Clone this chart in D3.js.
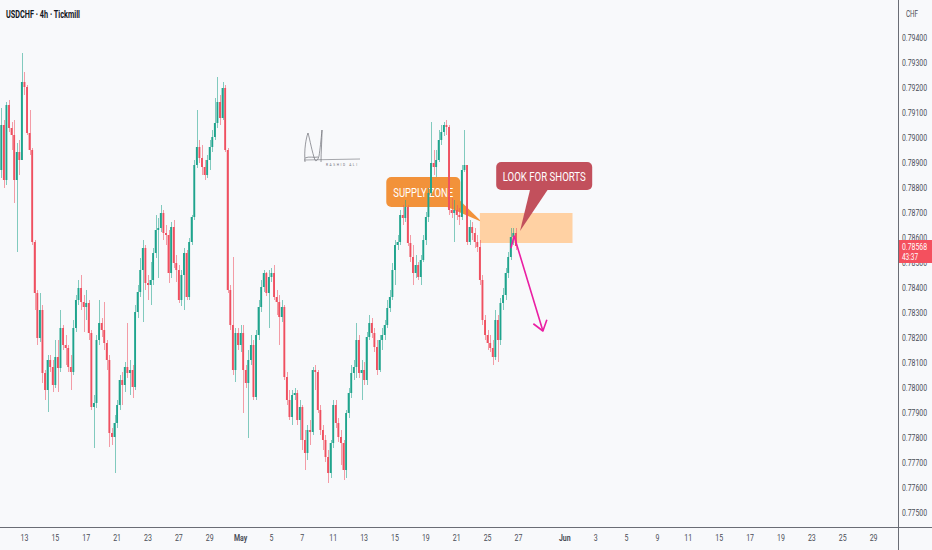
<!DOCTYPE html>
<html><head><meta charset="utf-8">
<script src="https://cdn.jsdelivr.net/npm/d3@7"></script>
<style>
html,body{margin:0;padding:0;background:#f8f9fb;}
svg{display:block;}
text{font-family:Roboto,'Noto Sans',sans-serif;}
</style></head><body>
<svg id="c" width="932" height="550"></svg>
<script>
// ---------- data ----------
const title = "USDCHF · 4h · Tickmill";
const currency = "CHF";
const firstOpen = 0.78872;
const closes = [0.79052,0.78832,0.79132,0.79040,0.79012,0.78832,0.78944,0.78912,0.79224,0.79204,
0.79020,0.78952,0.78584,0.78380,0.78200,0.78312,0.78060,0.77992,0.78112,0.78084,
0.78012,0.78124,0.78080,0.78240,0.78172,0.78160,0.78084,0.78064,0.78240,0.78352,
0.78400,0.78344,0.78324,0.78340,0.78220,0.77924,0.77940,0.78192,0.78260,0.78232,
0.78180,0.78112,0.77820,0.77804,0.77860,0.77932,0.78032,0.78012,0.78084,0.78060,
0.78072,0.78004,0.78304,0.78384,0.78472,0.78560,0.78420,0.78412,0.78432,0.78540,
0.78632,0.78640,0.78700,0.78620,0.78612,0.78460,0.78644,0.78500,0.78472,0.78352,
0.78452,0.78540,0.78364,0.78584,0.78684,0.78892,0.78964,0.78920,0.78884,0.78852,
0.78912,0.78964,0.79004,0.79060,0.79144,0.79080,0.79200,0.78952,0.78392,0.78252,
0.78072,0.78220,0.78172,0.78220,0.78072,0.78020,0.78112,0.78172,0.77964,0.78212,
0.78324,0.78404,0.78460,0.78380,0.78444,0.78460,0.78364,0.78344,0.78284,0.78324,
0.78044,0.77952,0.77884,0.77972,0.77980,0.77872,0.77924,0.77792,0.77740,0.77832,
0.77824,0.78072,0.78064,0.77912,0.77832,0.77792,0.77724,0.77660,0.77780,0.77932,
0.77860,0.77804,0.77780,0.77672,0.77900,0.77980,0.78060,0.78084,0.78192,0.78060,
0.78072,0.78032,0.78204,0.78260,0.78220,0.78164,0.78072,0.78192,0.78212,0.78252,
0.78320,0.78364,0.78472,0.78572,0.78584,0.78692,0.78680,0.78724,0.78580,0.78524,
0.78460,0.78492,0.78444,0.78512,0.78592,0.78684,0.78780,0.78900,0.78884,0.78912,
0.78992,0.79024,0.79052,0.79044,0.78712,0.78700,0.78712,0.78692,0.78684,0.78872,
0.78892,0.78584,0.78644,0.78620,0.78584,0.78564,0.78432,0.78272,0.78212,0.78180,
0.78160,0.78124,0.78272,0.78192,0.78340,0.78372,0.78460,0.78524,0.78604,0.78620,
0.78568];
const highs = [0.79120,0.79072,0.79144,0.79152,0.79064,0.79072,0.78980,0.78992,0.79340,0.79264,
0.79212,0.79112,0.78960,0.78592,0.78392,0.78380,0.78332,0.78072,0.78132,0.78132,
0.78112,0.78192,0.78192,0.78312,0.78252,0.78212,0.78172,0.78132,0.78272,0.78372,
0.78432,0.78452,0.78372,0.78392,0.78352,0.78232,0.77972,0.78212,0.78352,0.78280,
0.78344,0.78192,0.78132,0.77840,0.77892,0.77952,0.78052,0.78064,0.78104,0.78260,
0.78112,0.78092,0.78332,0.78412,0.78520,0.78592,0.78572,0.78452,0.78504,0.78560,
0.78692,0.78680,0.78732,0.78712,0.78652,0.78632,0.78664,0.78672,0.78532,0.78492,
0.78472,0.78560,0.78552,0.78600,0.78692,0.78912,0.79112,0.78992,0.78972,0.78912,
0.78932,0.78992,0.79032,0.79160,0.79244,0.79172,0.79224,0.79212,0.78960,0.78412,
0.78524,0.78240,0.78240,0.78252,0.78252,0.78092,0.78152,0.78212,0.78192,0.78232,
0.78352,0.78432,0.78472,0.78464,0.78472,0.78480,0.78492,0.78392,0.78372,0.78352,
0.78332,0.78064,0.77992,0.77992,0.78000,0.77992,0.77952,0.77932,0.77832,0.77852,
0.77872,0.78084,0.78092,0.78072,0.77932,0.77852,0.77812,0.77752,0.77792,0.77952,
0.77952,0.77880,0.77832,0.77792,0.77912,0.78000,0.78092,0.78112,0.78260,0.78212,
0.78112,0.78104,0.78224,0.78292,0.78280,0.78240,0.78192,0.78212,0.78240,0.78272,
0.78352,0.78392,0.78500,0.78592,0.78612,0.78712,0.78732,0.78752,0.78732,0.78612,
0.78572,0.78532,0.78504,0.78532,0.78612,0.78704,0.78800,0.79064,0.78952,0.78952,
0.79032,0.79052,0.79064,0.79072,0.79052,0.78760,0.78752,0.78732,0.78720,0.78892,
0.79032,0.78892,0.78672,0.78664,0.78640,0.78612,0.78592,0.78452,0.78292,0.78232,
0.78212,0.78192,0.78312,0.78292,0.78360,0.78400,0.78480,0.78544,0.78640,0.78640,
0.78640];
const lows = [0.78840,0.78800,0.78812,0.79024,0.78952,0.78740,0.78544,0.78852,0.78912,0.79172,
0.79012,0.78932,0.78572,0.78312,0.78172,0.78184,0.78020,0.77952,0.77904,0.78064,
0.77984,0.78000,0.77984,0.78064,0.78152,0.78092,0.78064,0.77992,0.78052,0.78224,
0.78332,0.78312,0.78224,0.78272,0.78192,0.77912,0.77760,0.77920,0.78172,0.78204,
0.78152,0.78072,0.77764,0.77772,0.77660,0.77840,0.77912,0.77932,0.77984,0.78040,
0.77972,0.77960,0.77992,0.78280,0.78364,0.78264,0.78392,0.78352,0.78332,0.78412,
0.78520,0.78440,0.78624,0.78592,0.78572,0.78420,0.78440,0.78480,0.78424,0.78340,
0.78328,0.78312,0.78352,0.78352,0.78572,0.78672,0.78880,0.78900,0.78852,0.78832,
0.78840,0.78872,0.78944,0.78992,0.79040,0.79052,0.79072,0.78944,0.78380,0.78232,
0.78052,0.78024,0.78152,0.78144,0.77900,0.78000,0.77800,0.78092,0.77952,0.77952,
0.78192,0.78304,0.78384,0.78368,0.78240,0.78424,0.78352,0.78292,0.78172,0.78264,
0.78032,0.77932,0.77872,0.77852,0.77952,0.77852,0.77792,0.77752,0.77672,0.77712,
0.77772,0.77812,0.77992,0.77900,0.77812,0.77752,0.77704,0.77620,0.77640,0.77760,
0.77840,0.77784,0.77692,0.77632,0.77640,0.77880,0.77960,0.78032,0.78040,0.78040,
0.77952,0.78012,0.78012,0.78192,0.78200,0.78144,0.78052,0.78064,0.78152,0.78192,
0.78240,0.78304,0.78352,0.78412,0.78552,0.78572,0.78652,0.78664,0.78568,0.78504,
0.78412,0.78440,0.78432,0.78412,0.78504,0.78572,0.78664,0.78768,0.78852,0.78844,
0.78904,0.78972,0.79008,0.79012,0.78692,0.78680,0.78584,0.78672,0.78652,0.78672,
0.78864,0.78572,0.78572,0.78592,0.78560,0.78544,0.78412,0.78252,0.78192,0.78152,
0.78144,0.78092,0.78112,0.78104,0.78172,0.78312,0.78352,0.78440,0.78512,0.78572,
0.78552];

const priceTicks = [0.775,0.776,0.777,0.778,0.779,0.780,0.781,0.782,0.783,0.784,
  0.785,0.786,0.787,0.788,0.789,0.790,0.791,0.792,0.793,0.794];
const dateTickIndex = [9,21,33,45,57,69,81,93,105,117,129,141,153,165,177,189,201,
  219,231,243,255,267,279,291,303,315,327,339];
const dateTickLabels = ["13","15","17","21","23","27","29","May","5","7","11","13","15","19","21","25","27",
  "Jun","3","5","9","11","15","17","19","23","25","29"];
const boldLabels = ["May","Jun"];
const lastPrice = 0.78568;
const countdown = "43:37";

// annotations (data coordinates)
const zoneIndex = [186, 222];
const zonePrice = [0.7858, 0.7870];
const calloutText = ["SUPPLY ZONE", "LOOK FOR SHORTS"];
const calloutIndex = [164, 211];
const calloutPrice = [0.78784, 0.78848];
const calloutTipIndex = [186.8, 201.6];
const calloutTipPrice = [0.78664, 0.78628];
const arrowIndex = [198.1, 199.3, 210.5];
const arrowPrice = [0.7856, 0.78608, 0.78228];

// ---------- drawing ----------
const W = 932, H = 550, axisX = 898, axisY = 527;
const svg = d3.select("#c");
const x = d3.scaleLinear().domain([-0.5, 348.5]).range([0, axisX]);
const y = d3.scaleLinear().domain([0.775, 0.794]).range([513, 38]);

// horizontally condense text (the reference uses a narrow UI font)
function squeeze(sel, target) {
  sel.each(function () {
    const w = this.getComputedTextLength();
    const t = typeof target === "function" ? target(w) : target;
    if (t < w) {
      this.setAttribute("textLength", t);
      this.setAttribute("lengthAdjust", "spacingAndGlyphs");
    }
  });
}

svg.append("rect").attr("width", W).attr("height", H).attr("fill", "#f8f9fb");

const GREEN = "#1fa48d", RED = "#ef5060";

// signature logo (decoration)
const sig = svg.append("g").attr("fill","none").attr("stroke","#6d6f75").attr("stroke-width",0.7);
sig.append("path").attr("d","M305,162 C304,150 306,138 308,133 C310,140 312,152 315,160 C316,162 318,160 319,156 C320,150 321,140 322,130 C322,140 321,152 321,162");
sig.append("path").attr("d","M305,158 C309,156 314,158 318,157");
sig.append("path").attr("d","M304,160 L360,159").attr("stroke-width",0.6);
svg.append("text").attr("x",326).attr("y",166).attr("font-size",3.2).attr("letter-spacing",1.6)
  .attr("fill","#6d6f75").text("RASHID ALI");

function callout(k, fill, w, h, baseA, baseB, textW) {
  const cx = x(calloutIndex[k]), cy = y(calloutPrice[k]);
  const tx = x(calloutTipIndex[k]), ty = y(calloutTipPrice[k]);
  const g = svg.append("g");
  g.append("path").attr("d", `M${cx+baseA[0]},${cy+baseA[1]} L${tx},${ty} L${cx+baseB[0]},${cy+baseB[1]} Z`).attr("fill", fill);
  g.append("rect").attr("x", cx - w/2).attr("y", cy - h/2).attr("width", w).attr("height", h)
    .attr("rx", 5).attr("fill", fill);
  const t = g.append("text").attr("x", cx).attr("y", cy + 4.5).attr("text-anchor", "middle")
    .attr("font-size", 12.5).attr("fill", "#ffffff").text(calloutText[k]);
  squeeze(t, textW);
  return g;
}
// SUPPLY ZONE callout (under candles, as in the reference)
callout(0, "#f2923a", 74, 30, [30, 2], [24, 15], 60);

// supply zone rectangle
svg.append("rect")
  .attr("x", x(zoneIndex[0])).attr("y", y(zonePrice[1]))
  .attr("width", x(zoneIndex[1]) - x(zoneIndex[0]))
  .attr("height", y(zonePrice[0]) - y(zonePrice[1]))
  .attr("fill", "#ffcf9e").attr("opacity", 0.95);

// candles
const candles = closes.map((c, i) => ({
  i, c, o: i === 0 ? firstOpen : closes[i - 1], h: highs[i], l: lows[i]
}));
const cg = svg.append("g");
cg.selectAll("line").data(candles).join("line")
  .attr("x1", d => Math.round(x(d.i)) + 0.5).attr("x2", d => Math.round(x(d.i)) + 0.5)
  .attr("y1", d => y(Math.max(d.h, d.o, d.c))).attr("y2", d => y(Math.min(d.l, d.o, d.c)))
  .attr("stroke", d => d.c >= d.o ? GREEN : RED).attr("stroke-opacity", 0.55).attr("stroke-width", 1);
cg.selectAll("rect").data(candles).join("rect")
  .attr("x", d => x(d.i) - 0.95).attr("width", 1.9)
  .attr("y", d => y(Math.max(d.o, d.c)))
  .attr("height", d => Math.max(1, Math.abs(y(d.o) - y(d.c))))
  .attr("fill", d => d.c >= d.o ? GREEN : RED);

// LOOK FOR SHORTS callout
callout(1, "#c2505c", 96, 28, [-14, 13], [4, 13], 83);

// magenta arrow
const pts = arrowIndex.map((v, k) => [x(v), y(arrowPrice[k])]);
svg.append("path").attr("d", d3.line()(pts)).attr("fill", "none")
  .attr("stroke", "#ea1fa3").attr("stroke-width", 1.6).attr("stroke-linejoin", "round");
const [p1, p2] = [pts[1], pts[2]];
const ang = Math.atan2(p1[1] - p2[1], p1[0] - p2[0]);
const L = 12, spread = 36 * Math.PI / 180;
const head = [[p2[0] + L*Math.cos(ang - spread), p2[1] + L*Math.sin(ang - spread)], p2,
              [p2[0] + L*Math.cos(ang + spread), p2[1] + L*Math.sin(ang + spread)]];
svg.append("path").attr("d", d3.line()(head)).attr("fill", "none")
  .attr("stroke", "#ea1fa3").attr("stroke-width", 1.6).attr("stroke-linejoin", "round");

// axes panels
svg.append("rect").attr("x", axisX).attr("y", 0).attr("width", W - axisX).attr("height", H).attr("fill", "#f8f9fb");
svg.append("rect").attr("x", 0).attr("y", axisY).attr("width", W).attr("height", H - axisY).attr("fill", "#f8f9fb");

// price axis
const ya = svg.append("g");
const pl = ya.selectAll("text").data(priceTicks).join("text")
  .attr("x", 902).attr("y", d => y(d) + 3)
  .attr("font-size", 8.5).attr("fill", "#4a4d57")
  .text(d => d.toFixed(5));
squeeze(pl, 25);
const chf = svg.append("text").attr("x", 912).attr("y", 17).attr("text-anchor", "middle")
  .attr("font-size", 8.5).attr("fill", "#4a4d57").text(currency);
squeeze(chf, 12);

// current price badge
const by = y(lastPrice);
svg.append("rect").attr("x", axisX + 1).attr("y", by - 6).attr("width", W - axisX - 1).attr("height", 23).attr("fill", "#f4505e");
const b1 = svg.append("text").attr("x", 902).attr("y", by + 4).attr("font-size", 8.5).attr("fill", "#fff").text(lastPrice.toFixed(5));
squeeze(b1, 25);
const b2 = svg.append("text").attr("x", 902).attr("y", by + 14).attr("font-size", 8.5).attr("fill", "#fff").text(countdown);
squeeze(b2, 16);

// time axis
const tl = svg.append("g").selectAll("text").data(dateTickIndex).join("text")
  .attr("x", d => x(d)).attr("y", 541).attr("text-anchor", "middle")
  .attr("font-size", 8.5).attr("fill", "#4a4d57")
  .attr("font-weight", (d, k) => boldLabels.includes(dateTickLabels[k]) ? "bold" : "normal")
  .text((d, k) => dateTickLabels[k]);
squeeze(tl, w => w * 0.82);

// separators
svg.append("line").attr("x1", axisX + 0.5).attr("x2", axisX + 0.5).attr("y1", 0).attr("y2", H)
  .attr("stroke", "#6a6d75").attr("stroke-width", 1);
svg.append("line").attr("x1", 0).attr("x2", W).attr("y1", axisY + 0.5).attr("y2", axisY + 0.5)
  .attr("stroke", "#6a6d75").attr("stroke-width", 1);

// title
const tt = svg.append("text").attr("x", 6).attr("y", 17.5).attr("font-size", 10).attr("font-weight", "bold")
  .attr("fill", "#131722").text(title);
squeeze(tt, 74);
</script>
</body></html>
